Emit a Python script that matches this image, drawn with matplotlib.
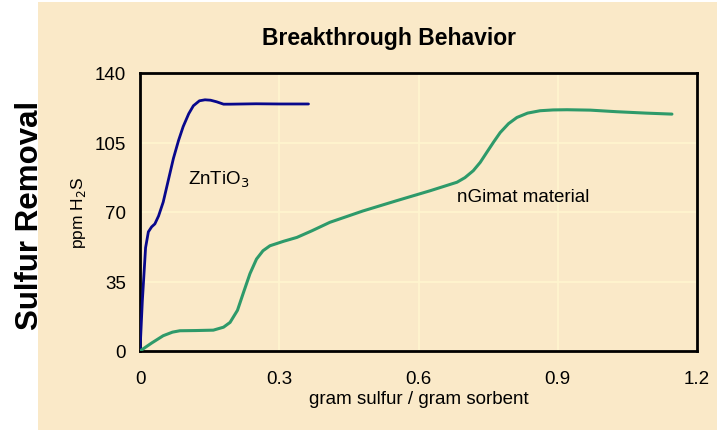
import numpy as np
import matplotlib
matplotlib.use("Agg")
import matplotlib.pyplot as plt
from matplotlib.patches import Rectangle

plt.rcParams['font.family'] = ['Liberation Sans', 'DejaVu Sans']

# ZnTiO3 breakthrough curve
zn_x = [0.0, 0.005, 0.012, 0.018, 0.025, 0.032, 0.04, 0.05, 0.06, 0.072, 0.083, 0.093,
        0.105, 0.115, 0.128, 0.14, 0.152, 0.165, 0.18, 0.194, 0.25, 0.3, 0.363]
zn_y = [0.0, 25, 52, 60, 62.5, 64, 68, 75, 85, 97, 106, 113,
        119.5, 123.5, 126, 126.5, 126.3, 125.5, 124.3, 124.3, 124.5, 124.4, 124.4]

# nGimat material breakthrough curve
ng_x = [0.0, 0.025, 0.05, 0.07, 0.086, 0.12, 0.158, 0.18, 0.194, 0.21, 0.223, 0.237,
        0.251, 0.265, 0.28, 0.31, 0.338, 0.37, 0.409, 0.48, 0.553, 0.625, 0.683,
        0.7, 0.718, 0.733, 0.747, 0.762, 0.776, 0.794, 0.812, 0.835, 0.862, 0.89,
        0.92, 0.97, 1.027, 1.09, 1.146]
ng_y = [0.0, 4.0, 7.7, 9.5, 10.2, 10.3, 10.5, 12.0, 14.4, 20.5, 29.5, 39.0,
        46.3, 50.5, 53.0, 55.3, 57.2, 60.5, 64.8, 70.5, 75.7, 80.7, 85.0,
        87.3, 90.8, 95.0, 100.0, 105.3, 110.0, 114.5, 117.6, 119.8, 121.0, 121.4,
        121.5, 121.3, 120.5, 119.8, 119.3]

x_ticks = [0, 0.3, 0.6, 0.9, 1.2]
x_tick_labels = ['0', '0.3', '0.6', '0.9', '1.2']
y_ticks = [0, 35, 70, 105, 140]

beige = '#FAE9C8'
grid_col = '#FFF6CF'

fig = plt.figure(figsize=(7.17, 4.31), dpi=100)
fig.set_facecolor('white')
fig.patches.append(Rectangle((38 / 717, 0), 1 - 38 / 717, 1 - 3 / 431,
                             transform=fig.transFigure, facecolor=beige,
                             edgecolor='none', zorder=-10))

ax = fig.add_axes([140 / 717, 1 - 352 / 431, 557 / 717, 278 / 431])
ax.set_facecolor(beige)

ax.plot(zn_x, zn_y, color='#08088C', lw=2, solid_capstyle='round', zorder=3)
ax.plot(ng_x, ng_y, color='#2E9A6A', lw=2.2, solid_capstyle='round', zorder=3)

ax.set_xlim(0, 1.2)
ax.set_ylim(0, 140)
ax.set_xticks(x_ticks)
ax.set_xticklabels(x_tick_labels)
ax.set_yticks(y_ticks)
ax.tick_params(length=0, labelsize=13.5)
ax.tick_params(axis='x', pad=14)
ax.tick_params(axis='y', pad=10)
ax.grid(color=grid_col, lw=1.2, zorder=0)
ax.set_axisbelow(True)
for s in ax.spines.values():
    s.set_linewidth(2)
    s.set_color('black')

ax.text(0.103, 86.5, 'ZnTiO$_3$', fontsize=13.5, va='center', ha='left')
ax.text(0.684, 78, 'nGimat material', fontsize=13.5, va='center', ha='left')

ax.set_xlabel('gram sulfur / gram sorbent', fontsize=13.5, labelpad=2)
fig.text(78 / 717, 1 - 213 / 431, 'ppm H$_2$S', rotation=90, fontsize=12.5,
         ha='center', va='center')
fig.text(389 / 717, 1 - 45 / 431, 'Breakthrough Behavior', fontsize=16.5,
         fontweight='bold', ha='center', va='baseline')
fig.text(30 / 717, 1 - 215 / 431, 'Sulfur Removal', rotation=90, fontsize=22.5,
         fontweight='bold', ha='center', va='center')

plt.savefig('out.png', dpi=100, facecolor=fig.get_facecolor())
